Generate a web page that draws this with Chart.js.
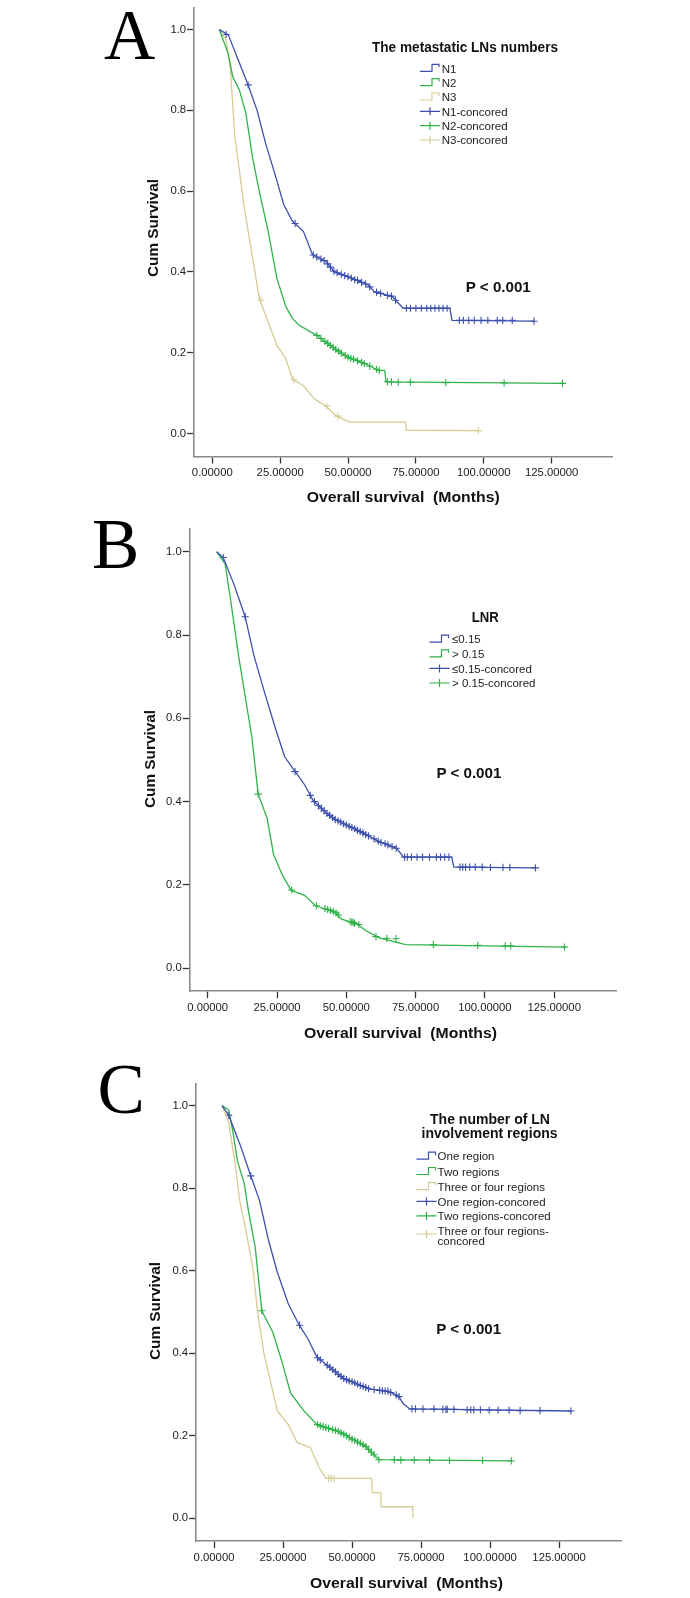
<!DOCTYPE html>
<html>
<head>
<meta charset="utf-8">
<script src="https://cdn.jsdelivr.net/npm/chart.js@4.4.1/dist/chart.umd.min.js"></script>
<style>
body { margin: 0; background: #fff; width: 690px; height: 1598px; position: relative; overflow: hidden; }
canvas { position: absolute; left: 0; }
svg { position: absolute; left: 0; top: 0; }
</style>
</head>
<body>
<canvas id="chartA" width="690" height="520" style="top:0px"></canvas>
<canvas id="chartB" width="690" height="540" style="top:520px"></canvas>
<canvas id="chartC" width="690" height="538" style="top:1060px"></canvas>
<svg id="overlay" width="690" height="1598" xmlns="http://www.w3.org/2000/svg"></svg>
<script>
/* Kaplan-Meier panels A/B/C */
const xTicks = [0, 25, 50, 75, 100, 125];
const yTicks = [0, 0.2, 0.4, 0.6, 0.8, 1.0];

const BLUE = '#3c4fae', GREEN = '#2fb24a', TAN = '#d5cb93';

// ---- Panel A: metastatic LN numbers
const aN1Time = [2.6, 5.9, 10, 13.2, 16.5, 19.7, 23.8, 26.3, 29.5, 33.6, 36.9, 41.8, 45, 51.6, 57.3, 59.7, 66.3, 70.3, 87.5, 88.3, 118.5];
const aN1Surv = [1.0, 0.987, 0.917, 0.863, 0.80, 0.717, 0.626, 0.567, 0.526, 0.50, 0.443, 0.426, 0.40, 0.384, 0.368, 0.351, 0.339, 0.31, 0.31, 0.28, 0.278];
const aN1CensT = [5.1, 13.2, 30.5, 37.2, 38.5, 40, 41.2, 42.5, 43.5, 44.8, 46, 47.5, 48.8, 50, 51.2, 52.5, 53.5, 55, 56.5, 58, 60.5, 62, 64.5, 66, 67.5, 71.5, 73, 75, 77, 79, 80.5, 82, 83.5, 85, 86.5, 91, 92.5, 94.5, 96.5, 99, 101.5, 105, 107, 110.5, 118.5];
const aN1CensS = [0.988, 0.863, 0.52, 0.442, 0.437, 0.432, 0.428, 0.420, 0.412, 0.402, 0.398, 0.394, 0.391, 0.388, 0.385, 0.381, 0.379, 0.374, 0.370, 0.363, 0.350, 0.347, 0.342, 0.340, 0.33, 0.31, 0.31, 0.31, 0.31, 0.31, 0.31, 0.31, 0.31, 0.31, 0.31, 0.28, 0.28, 0.28, 0.28, 0.28, 0.28, 0.28, 0.28, 0.28, 0.278];

const aN2Time = [2.6, 5.9, 7.5, 10, 12.4, 14.8, 17.3, 20.6, 23.8, 27.1, 29.5, 32, 38.5, 45, 49.9, 56.5, 61.4, 63.5, 64, 129];
const aN2Surv = [1.0, 0.94, 0.884, 0.85, 0.792, 0.684, 0.60, 0.50, 0.384, 0.314, 0.285, 0.268, 0.243, 0.21, 0.189, 0.172, 0.156, 0.156, 0.128, 0.124];
const aN2CensT = [38.5, 40, 41.5, 42.5, 43.5, 44.5, 45.5, 46.5, 47.5, 49, 50, 51, 52, 53.5, 55, 56, 58, 60.5, 61.5, 64.5, 66, 68.5, 73, 86, 107.5, 129];
const aN2CensS = [0.243, 0.235, 0.228, 0.223, 0.218, 0.213, 0.208, 0.204, 0.199, 0.193, 0.189, 0.186, 0.184, 0.180, 0.176, 0.173, 0.167, 0.159, 0.156, 0.128, 0.128, 0.127, 0.127, 0.126, 0.125, 0.124];

const aN3Time = [2.6, 5.1, 6.7, 8.3, 10, 11.6, 14, 15.7, 17.3, 20.6, 23.8, 27.1, 29.5, 33.6, 37.7, 41.8, 45.8, 50.7, 71.1, 71.5, 98];
const aN3Surv = [1.0, 0.975, 0.90, 0.734, 0.65, 0.567, 0.468, 0.40, 0.334, 0.276, 0.218, 0.185, 0.135, 0.118, 0.085, 0.068, 0.043, 0.028, 0.028, 0.008, 0.007];
const aN3CensT = [17.9, 30, 42.2, 46.2, 98];
const aN3CensS = [0.33, 0.133, 0.068, 0.043, 0.007];

// ---- Panel B: LNR
const bLowTime = [3.2, 5.6, 9.5, 13.5, 16.7, 20.6, 24.6, 27.8, 31.7, 35, 38.1, 42.8, 46, 52.3, 57.1, 61.9, 68.2, 70.6, 88, 88.8, 118.2];
const bLowSurv = [1.0, 0.986, 0.921, 0.844, 0.75, 0.66, 0.572, 0.507, 0.471, 0.44, 0.402, 0.373, 0.357, 0.337, 0.321, 0.304, 0.288, 0.267, 0.267, 0.243, 0.241];
const bLowCensT = [5.6, 13.5, 31.5, 37, 38.5, 40, 41, 42, 43, 44, 45, 46, 47, 48, 49, 50, 51, 52, 53, 54, 55, 56, 57, 58, 60, 61.5, 62.5, 64, 65, 66.5, 68, 71, 72, 73.5, 75.5, 77.5, 80, 82.5, 84, 85.5, 87, 91, 92, 93, 94.5, 96.5, 99, 102, 106.5, 109, 118.2];
const bLowCensS = [0.986, 0.844, 0.472, 0.415, 0.40, 0.39, 0.384, 0.378, 0.372, 0.367, 0.362, 0.357, 0.354, 0.351, 0.347, 0.344, 0.341, 0.338, 0.335, 0.331, 0.328, 0.325, 0.321, 0.318, 0.311, 0.305, 0.302, 0.299, 0.296, 0.292, 0.288, 0.267, 0.267, 0.267, 0.267, 0.267, 0.267, 0.267, 0.267, 0.267, 0.267, 0.243, 0.243, 0.243, 0.243, 0.243, 0.243, 0.242, 0.242, 0.242, 0.241];

const bHighTime = [3.2, 6.3, 8.7, 11.1, 13.5, 15.9, 18.2, 21.4, 23.8, 27, 30.1, 34.9, 38.9, 46, 48.3, 53.9, 57.1, 61.9, 71.4, 129.3];
const bHighSurv = [1.0, 0.97, 0.864, 0.751, 0.653, 0.556, 0.418, 0.361, 0.272, 0.223, 0.187, 0.175, 0.15, 0.134, 0.118, 0.106, 0.09, 0.073, 0.057, 0.051];
const bHighCensT = [18.2, 30.3, 39.2, 42.3, 43.3, 44.3, 45.3, 46.3, 47.1, 51.4, 52, 52.5, 53, 54.5, 60.7, 64.6, 67.9, 81.4, 97.4, 107.3, 109.3, 128.7];
const bHighCensS = [0.418, 0.188, 0.150, 0.143, 0.141, 0.139, 0.136, 0.133, 0.128, 0.112, 0.111, 0.110, 0.108, 0.105, 0.076, 0.072, 0.071, 0.057, 0.055, 0.054, 0.054, 0.051];

// ---- Panel C: number of LN involvement regions
const cOneTime = [2.9, 5.3, 9.3, 13.3, 16.5, 19.7, 22.9, 26.9, 30.9, 34.1, 37.3, 42.1, 46.9, 51.7, 56.5, 62.9, 66.9, 68.5, 70.9, 129.3];
const cOneSurv = [1.0, 0.977, 0.908, 0.830, 0.77, 0.675, 0.597, 0.52, 0.468, 0.434, 0.39, 0.365, 0.339, 0.326, 0.313, 0.308, 0.296, 0.278, 0.265, 0.26];
const cOneCensT = [5.3, 13.3, 31, 37.5, 38.5, 41, 42, 43, 44, 45, 46, 47, 48, 49, 50, 51, 52, 53, 54, 55, 56, 58, 60, 61, 62, 63, 64, 66, 67, 71.7, 73, 75.7, 79.7, 82.9, 84, 84.5, 86.9, 91.7, 93, 94.1, 96.5, 99.7, 102.9, 106.9, 110.9, 118.1, 129.3];
const cOneCensS = [0.977, 0.830, 0.468, 0.389, 0.384, 0.371, 0.366, 0.36, 0.355, 0.349, 0.344, 0.339, 0.336, 0.333, 0.331, 0.328, 0.325, 0.322, 0.32, 0.317, 0.314, 0.312, 0.31, 0.309, 0.308, 0.308, 0.305, 0.299, 0.295, 0.265, 0.265, 0.265, 0.265, 0.264, 0.264, 0.264, 0.264, 0.263, 0.263, 0.263, 0.263, 0.262, 0.262, 0.262, 0.261, 0.261, 0.26];

const cTwoTime = [2.9, 5.3, 6.9, 8.5, 10.9, 12.5, 14.9, 17.3, 21.3, 24.5, 27.7, 32.5, 37.3, 45.3, 50.1, 54.9, 58.1, 59.7, 107.7];
const cTwoSurv = [1.0, 0.99, 0.934, 0.865, 0.813, 0.744, 0.658, 0.503, 0.451, 0.382, 0.304, 0.261, 0.227, 0.21, 0.192, 0.175, 0.153, 0.142, 0.139];
const cTwoCensT = [17.3, 37.5, 38.5, 39.5, 40.5, 41.5, 43, 44, 45, 46, 47, 48, 49, 50, 51, 52, 53, 54, 55, 56, 57, 58, 59.7, 65.3, 67.7, 72.5, 78.1, 85.3, 97.3, 107.7];
const cTwoCensS = [0.503, 0.227, 0.224, 0.222, 0.22, 0.218, 0.215, 0.213, 0.211, 0.207, 0.204, 0.2, 0.196, 0.192, 0.189, 0.185, 0.182, 0.178, 0.174, 0.167, 0.16, 0.154, 0.142, 0.142, 0.141, 0.141, 0.141, 0.14, 0.14, 0.139];

const cThreeTime = [2.9, 5.3, 7.7, 9.3, 11.7, 14.1, 15.7, 18.1, 20.5, 22.9, 26.9, 30.1, 34.9, 38.1, 40.5, 57.1, 57.3, 60.4, 60.5, 72, 72.1];
const cThreeSurv = [1.0, 0.96, 0.856, 0.77, 0.692, 0.606, 0.503, 0.399, 0.33, 0.261, 0.227, 0.184, 0.171, 0.123, 0.097, 0.097, 0.062, 0.062, 0.028, 0.028, 0.0];
const cThreeCensT = [41.5, 42.5, 43.5];
const cThreeCensS = [0.097, 0.097, 0.097];

function toPts(xs, ys) { return xs.map((x, i) => ({ x: x, y: ys[i] })); }

function buildChart(canvasId, series, area) {
    const curves = series.map(s => ({
        data: toPts(s.t, s.s), showLine: true, borderColor: s.color, borderWidth: 1.3,
        pointRadius: 0, fill: false
    }));
    const marks = series.map(s => ({
        data: toPts(s.ct, s.cs), showLine: false, pointStyle: 'cross', pointRadius: 3.6,
        borderColor: s.color, backgroundColor: s.color, borderWidth: 1.1
    }));
    const tickFont = { family: 'Liberation Sans', size: 11.3 };
    new Chart(document.getElementById(canvasId), {
        type: 'scatter',
        data: { datasets: curves.concat(marks) },
        options: {
            responsive: false, animation: false, devicePixelRatio: 1, events: [],
            layout: { padding: area.padding },
            plugins: { legend: { display: false }, tooltip: { enabled: false } },
            scales: {
                x: {
                    type: 'linear', min: area.xMin, max: area.xMax,
                    afterBuildTicks: sc => { sc.ticks = xTicks.map(v => ({ value: v })); },
                    afterFit: sc => { sc.height = 30; },
                    ticks: { callback: v => Number(v).toFixed(5), font: tickFont, color: '#222', padding: 3, maxRotation: 0, autoSkip: false },
                    grid: { display: true, drawOnChartArea: false, drawTicks: true, tickLength: 7, tickColor: '#333', tickWidth: 1.3 },
                    border: { display: true, color: '#8a8a8a', width: 1.6 }
                },
                y: {
                    type: 'linear', min: area.yMin, max: area.yMax,
                    afterBuildTicks: sc => { sc.ticks = yTicks.map(v => ({ value: v })); },
                    afterFit: sc => { sc.width = 40; },
                    ticks: { callback: v => Number(v).toFixed(1), font: tickFont, color: '#222', padding: 1, autoSkip: false },
                    grid: { display: true, drawOnChartArea: false, drawTicks: true, tickLength: 7, tickColor: '#333', tickWidth: 1.3 },
                    border: { display: true, color: '#8a8a8a', width: 1.6 }
                }
            }
        }
    });
}

buildChart('chartA', [
    { t: aN1Time, s: aN1Surv, ct: aN1CensT, cs: aN1CensS, color: BLUE },
    { t: aN2Time, s: aN2Surv, ct: aN2CensT, cs: aN2CensS, color: GREEN },
    { t: aN3Time, s: aN3Surv, ct: aN3CensT, cs: aN3CensS, color: TAN }
], { xMin: -6.7, xMax: 147.5, yMin: -0.057, yMax: 1.054,
     padding: { left: 154.1, top: 4.7, right: 77.3, bottom: 33.5 } });

buildChart('chartB', [
    { t: bLowTime, s: bLowSurv, ct: bLowCensT, cs: bLowCensS, color: BLUE },
    { t: bHighTime, s: bHighSurv, ct: bHighCensT, cs: bHighCensS, color: GREEN }
], { xMin: -6.5, xMax: 147.5, yMin: -0.055, yMax: 1.054,
     padding: { left: 149.7, top: 9.2, right: 73.4, bottom: 38.8 } });

buildChart('chartC', [
    { t: cOneTime, s: cOneSurv, ct: cOneCensT, cs: cOneCensS, color: BLUE },
    { t: cTwoTime, s: cTwoSurv, ct: cTwoCensT, cs: cTwoCensS, color: GREEN },
    { t: cThreeTime, s: cThreeSurv, ct: cThreeCensT, cs: cThreeCensS, color: TAN }
], { xMin: -6.5, xMax: 147.7, yMin: -0.055, yMax: 1.054,
     padding: { left: 156.1, top: 23.4, right: 68.3, bottom: 27 } });

// ---- overlay texts (letters, axis titles, legends, p values)
const svg = document.getElementById('overlay');
const NS = 'http://www.w3.org/2000/svg';
function txt(str, x, y, attrs) {
    const el = document.createElementNS(NS, 'text');
    el.setAttribute('x', x); el.setAttribute('y', y);
    for (const k in attrs) el.setAttribute(k, attrs[k]);
    el.textContent = str;
    svg.appendChild(el);
    return el;
}
function path(d, color) {
    const el = document.createElementNS(NS, 'path');
    el.setAttribute('d', d); el.setAttribute('stroke', color);
    el.setAttribute('stroke-width', '1.2'); el.setAttribute('fill', 'none');
    svg.appendChild(el);
}
const bold = { 'font-family': 'Liberation Sans', 'font-weight': 'bold', 'font-size': '15.5', fill: '#111' };
const letter = { 'font-family': 'Liberation Serif', 'font-size': '71', fill: '#000' };
const item = { 'font-family': 'Liberation Sans', 'font-size': '11.5', fill: '#222' };

function panelText(p) {
    txt(p.letter, p.letterX, p.letterY, letter);
    const cs = txt('Cum Survival', 0, 0, Object.assign({ 'text-anchor': 'middle', textLength: 98, lengthAdjust: 'spacingAndGlyphs' }, bold));
    cs.setAttribute('transform', `translate(${p.cumX},${p.cumY}) rotate(-90)`);
    txt('Overall survival\u00a0 (Months)', p.titleX, p.titleY, Object.assign({ textLength: 193, lengthAdjust: 'spacingAndGlyphs' }, bold));
    txt('P < 0.001', p.pX, p.pY, Object.assign({ textLength: 65, lengthAdjust: 'spacingAndGlyphs' }, bold));
    p.legTitle.forEach(l => txt(l.s, l.x, l.y, Object.assign({ textLength: l.w, lengthAdjust: 'spacingAndGlyphs' }, bold)));
    p.items.forEach(it => {
        const cy = it.cy, x0 = p.symX;
        if (it.kind === 'step') path(`M${x0},${cy + 3} H${x0 + 12} V${cy - 4} H${x0 + 19} V${cy - 1}`, it.color);
        else path(`M${x0},${cy} H${x0 + 20} M${x0 + 10},${cy - 4} V${cy + 4}`, it.color);
        it.lines.forEach((ln, k) => txt(ln, p.textX, it.base[k], item));
    });
}

panelText({
    letter: 'A', letterX: 104, letterY: 59, cumX: 158.3, cumY: 228,
    titleX: 306.7, titleY: 502, pX: 465.8, pY: 292,
    legTitle: [{ s: 'The metastatic LNs numbers', x: 372, y: 51.5, w: 186 }],
    symX: 420, textX: 441.7,
    items: [
        { kind: 'step', color: BLUE, cy: 68.3, base: [72.5], lines: ['N1'] },
        { kind: 'step', color: GREEN, cy: 82.6, base: [86.8], lines: ['N2'] },
        { kind: 'step', color: TAN, cy: 97, base: [101.2], lines: ['N3'] },
        { kind: 'cens', color: BLUE, cy: 111.3, base: [115.5], lines: ['N1-concored'] },
        { kind: 'cens', color: GREEN, cy: 125.7, base: [129.9], lines: ['N2-concored'] },
        { kind: 'cens', color: TAN, cy: 140, base: [144.2], lines: ['N3-concored'] }
    ]
});

panelText({
    letter: 'B', letterX: 92, letterY: 567.5, cumX: 155, cumY: 759,
    titleX: 304, titleY: 1038, pX: 436.4, pY: 777.8,
    legTitle: [{ s: 'LNR', x: 471.7, y: 622, w: 27 }],
    symX: 429.5, textX: 452,
    items: [
        { kind: 'step', color: BLUE, cy: 639.2, base: [643.4], lines: ['\u22640.15'] },
        { kind: 'step', color: GREEN, cy: 653.8, base: [658], lines: ['> 0.15'] },
        { kind: 'cens', color: BLUE, cy: 668.4, base: [672.6], lines: ['\u22640.15-concored'] },
        { kind: 'cens', color: GREEN, cy: 683, base: [687.2], lines: ['> 0.15-concored'] }
    ]
});

panelText({
    letter: 'C', letterX: 97.5, letterY: 1112.5, cumX: 160, cumY: 1311,
    titleX: 310, titleY: 1588, pX: 436.2, pY: 1334.4,
    legTitle: [
        { s: 'The number of LN', x: 430, y: 1124, w: 120 },
        { s: 'involvement regions', x: 421.6, y: 1137.5, w: 136 }
    ],
    symX: 416.5, textX: 437.6,
    items: [
        { kind: 'step', color: BLUE, cy: 1156.2, base: [1160.4], lines: ['One region'] },
        { kind: 'step', color: GREEN, cy: 1171.5, base: [1175.7], lines: ['Two regions'] },
        { kind: 'step', color: TAN, cy: 1186.6, base: [1190.8], lines: ['Three or four regions'] },
        { kind: 'cens', color: BLUE, cy: 1201.4, base: [1205.6], lines: ['One region-concored'] },
        { kind: 'cens', color: GREEN, cy: 1215.9, base: [1220.1], lines: ['Two regions-concored'] },
        { kind: 'cens', color: TAN, cy: 1234, base: [1234.5, 1245.2], lines: ['Three or four regions-', 'concored'] }
    ]
});
</script>
</body>
</html>
